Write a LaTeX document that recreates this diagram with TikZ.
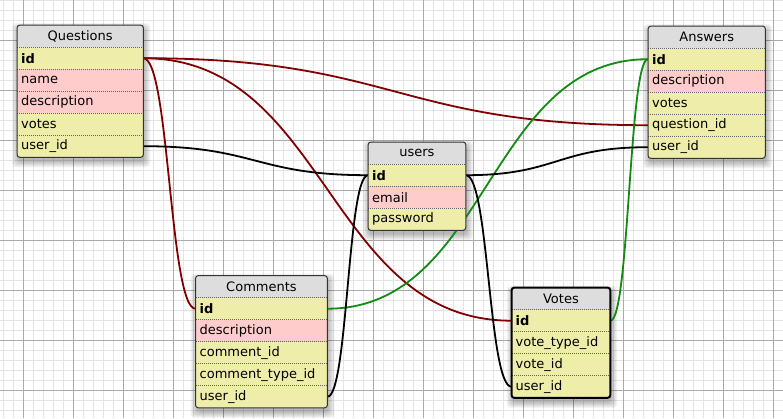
\documentclass[tikz,border=0pt]{standalone}
\usepackage{fontspec}
\setmainfont{DejaVu Sans}
\usetikzlibrary{calc}

\definecolor{hdrgray}{HTML}{DDDDDD}
\definecolor{rowyel}{HTML}{EEEEAA}
\definecolor{rowpink}{HTML}{FFCCCC}
\definecolor{gridminor}{HTML}{E4E4E4}
\definecolor{gridmajor}{HTML}{ABABAB}
\definecolor{fkred}{HTML}{800000}
\definecolor{fkgreen}{HTML}{148A14}
\definecolor{framegray}{HTML}{333333}

\pgfdeclarelayer{grid}
\pgfdeclarelayer{shade}
\pgfdeclarelayer{links}
\pgfsetlayers{grid,shade,links,main}

\tikzset{
  x=1pt, y=-1pt,
  tblfont/.style={font=\fontsize{13}{15}\selectfont},
  hdr/.style={tblfont, rectangle, fill=hdrgray, minimum height=22pt,
    inner sep=0pt, anchor=north west, align=center},
  fieldrow/.style={tblfont, rectangle, minimum height=22pt, inner xsep=4pt,
    inner ysep=0pt, anchor=north west, align=left},
  rowsep/.style={draw=black!60, line width=0.8pt, dash pattern=on 1pt off 1pt},
  tblframe/.style={draw=framegray, line width=1pt, rounded corners=3pt},
  selframe/.style={draw=black, line width=2pt, rounded corners=3pt},
  minorline/.style={draw=gridminor, line width=1pt},
  majorline/.style={draw=gridmajor, line width=1pt},
  fkline/.style={line width=1.8pt},
}

% #1 name, #2 top-left, #3 width, #4 text width, #5 title, #6 field list key/label/colour
\newcommand\dbtable[6]{%
  \node[hdr, minimum width=#3pt] (#1) at (#2) {#5};
  \foreach \k/\lbl/\clr [count=\i] in {#6} {
    \node[fieldrow, fill=\clr, minimum width=#3pt, text width=#4pt]
      (#1-\k) at ($(#2)+(0,22*\i)$) {\lbl};
    \draw[rowsep] (#1-\k.north west) -- (#1-\k.north east);
  }%
}

% soft shadow under a table, from its header to its last field
\newcommand\tblshadow[2]{%
  \begin{pgfonlayer}{shade}
    \foreach \e in {0,1,...,6}
      \fill[black, opacity=0.045, rounded corners=4pt]
        ($(#1.north west)+(1-\e,4-\e)$) rectangle ($(#2.south east)+(1+\e,4+\e)$);
  \end{pgfonlayer}%
}

\begin{document}
\begin{tikzpicture}
\useasboundingbox (0,0) rectangle (783,418);

% squared paper
\begin{pgfonlayer}{grid}
  \fill[white] (0,0) rectangle (783,418);
  \foreach \x in {3,13,...,783} \draw[minorline] (\x,0) -- (\x,418);
  \foreach \y in {0,10,...,418} \draw[minorline] (0,\y) -- (783,\y);
  \foreach \x in {23,73,...,773} \draw[majorline] (\x,0) -- (\x,418);
  \foreach \y in {40,90,...,390} \draw[majorline] (0,\y) -- (783,\y);
\end{pgfonlayer}

% tables
\dbtable{q}{17,25}{126}{118}{Questions}{id/\textbf{id}/rowyel, name/name/rowpink,
  desc/description/rowpink, votes/votes/rowyel, uid/user\_id/rowyel}
\draw[tblframe] (q.north west) rectangle (q-uid.south east);
\tblshadow{q}{q-uid}

\dbtable{a}{648,26}{117}{109}{Answers}{id/\textbf{id}/rowyel, desc/description/rowpink,
  votes/votes/rowyel, qid/question\_id/rowyel, uid/user\_id/rowyel}
\draw[tblframe] (a.north west) rectangle (a-uid.south east);
\tblshadow{a}{a-uid}

\dbtable{u}{368,142}{97.5}{89.5}{users}{id/\textbf{id}/rowyel, email/email/rowpink,
  pwd/password/rowyel}
\draw[tblframe] (u.north west) rectangle (u-pwd.south east);
\tblshadow{u}{u-pwd}

\dbtable{c}{195.5,275.5}{131.5}{123.5}{Comments}{id/\textbf{id}/rowyel,
  desc/description/rowpink, cid/comment\_id/rowyel,
  ctid/comment\_type\_id/rowyel, uid/user\_id/rowyel}
\draw[tblframe] (c.north west) rectangle (c-uid.south east);
\tblshadow{c}{c-uid}

\dbtable{v}{511.5,287.5}{98.5}{90.5}{Votes}{id/\textbf{id}/rowyel,
  vtid/vote\_type\_id/rowyel, vid/vote\_id/rowyel, uid/user\_id/rowyel}
\draw[selframe] (v.north west) rectangle (v-uid.south east);
\tblshadow{v}{v-uid}

% foreign-key relations
\begin{pgfonlayer}{links}
  \draw[fkline, fkred] (q-id.east) .. controls +(252.5,0) and +(-252.5,0) .. (a-qid.west);
  \draw[fkline, fkred] (q-id.east) .. controls +(184,0) and +(-184,0) .. (v-id.west);
  \draw[fkline, fkred] (q-id.east) .. controls +(26,0) and +(-26,0) .. (c-id.west);

  \draw[fkline, fkgreen] (c-id.east) .. controls +(160.5,0) and +(-160.5,0) .. (a-id.west);
  \draw[fkline, fkgreen] (v-id.east) .. controls +(19,0) and +(-19,0) .. (a-id.west);

  \draw[fkline, black] (q-uid.east) .. controls +(112.5,0) and +(-112.5,0) .. (u-id.west);
  \draw[fkline, black] (c-uid.east) .. controls +(20.5,0) and +(-20.5,0) .. (u-id.west);
  \draw[fkline, black] (a-uid.west) .. controls +(-91.5,0) and +(91.5,0) .. (u-id.east);
  \draw[fkline, black] (v-uid.west) .. controls +(-23,0) and +(23,0) .. (u-id.east);
\end{pgfonlayer}
\end{tikzpicture}
\end{document}
